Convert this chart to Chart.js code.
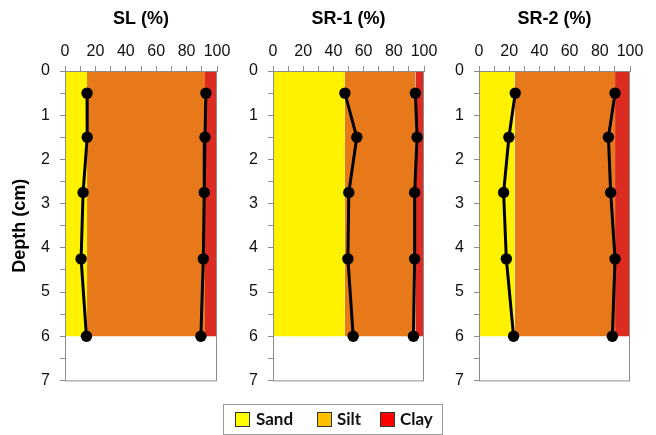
<!DOCTYPE html>
<html>
<head>
<meta charset="utf-8">
<script src="https://cdn.jsdelivr.net/npm/chart.js@4/dist/chart.umd.min.js"></script>
<style>
  html, body { margin: 0; padding: 0; background: #fff; }
  #page { position: relative; width: 656px; height: 435px; overflow: hidden; }
  canvas { position: absolute; top: 0; }
  #legend { position: absolute; left: 223px; top: 404px; width: 218px; height: 29px;
            border: 1px solid #9a9a9a; font: bold 17px Lato, 'Liberation Sans', sans-serif; color: #111; }
  .sw { position: absolute; top: 7px; width: 13px; height: 13px; border: 1px solid #333; }
  .lb { position: absolute; top: 4px; line-height: 20px; }
</style>
</head>
<body>
<div id="page">
  <canvas id="p0"></canvas>
  <canvas id="p1"></canvas>
  <canvas id="p2"></canvas>
  <div id="legend">
    <div class="sw" style="left:11px;background:#ffff00"></div><div class="lb" style="left:32px">Sand</div>
    <div class="sw" style="left:93px;background:#ffc000"></div><div class="lb" style="left:113px">Silt</div>
    <div class="sw" style="left:156px;background:#ff0000"></div><div class="lb" style="left:176px">Clay</div>
  </div>
</div>
<script>
(() => {
  'use strict'

  // Sample depths (cm)
  const depths = [0.5, 1.5, 2.75, 4.25, 6]
  const panelTitles = ['SL (%)', 'SR-1 (%)', 'SR-2 (%)']

  // Cumulative curves: sand, sand + silt (%)
  const slSand = [14.5, 14.6, 11.9, 10.6, 14.1]
  const slSandSilt = [92.7, 92.1, 91.6, 91.0, 89.4]
  const sr1Sand = [47.6, 55.5, 50.2, 49.6, 53.1]
  const sr1SandSilt = [94.3, 95.4, 93.8, 93.8, 93.0]
  const sr2Sand = [24.0, 19.8, 16.3, 18.1, 22.9]
  const sr2SandSilt = [90.1, 85.7, 87.2, 90.1, 88.3]

  // Shaded bands: sand limit and sand+silt limit per panel, down to bandDepth
  const sandBand = [14.5, 47.6, 23.6]
  const siltBand = [92.1, 94.3, 90.1]
  const bandDepth = 6

  const xTicks = { min: 0, max: 100, step: 10 }
  const yTicks = { min: 0, max: 7, step: 0.5 }

  const curves = [[slSand, slSandSilt], [sr1Sand, sr1SandSilt], [sr2Sand, sr2SandSilt]]

  const FONT = "'Liberation Sans', Arial, sans-serif"
  const GREY = '#8c8c8c'
  const fills = ['#fff200', '#e8791a', '#dc2b20']

  // plot-area left/right for each panel, plus y-axis width
  const frames = [
    { left: 65, right: 217, yw: 65 },
    { left: 273, right: 424, yw: 50 },
    { left: 479, right: 630, yw: 50 }
  ]

  const boxPlugin = {
    id: 'box',
    afterDatasetsDraw (chart) {
      const { ctx, chartArea: a } = chart
      ctx.save()
      ctx.strokeStyle = GREY
      ctx.lineWidth = 1
      ctx.strokeRect(a.left + 0.5, a.top + 0.5, a.right - a.left - 1, a.bottom - a.top)
      ctx.restore()
    }
  }

  const band = (x0, x1, color) => ({
    data: [{ x: x0, y: bandDepth }, { x: x1, y: bandDepth }],
    borderWidth: 0,
    pointRadius: 0,
    backgroundColor: color,
    fill: 'origin',
    order: 2
  })

  const curve = vals => ({
    data: vals.map((v, i) => ({ x: v, y: depths[i] })),
    borderColor: '#000',
    borderWidth: 3,
    pointRadius: 5.7,
    pointBackgroundColor: '#000',
    pointBorderWidth: 0,
    fill: false,
    tension: 0,
    order: 1
  })

  frames.forEach((f, i) => {
    const cv = document.getElementById('p' + i)
    const left = f.left - f.yw
    cv.width = f.right - left + 20
    cv.height = 400
    cv.style.left = left + 'px'

    // eslint-disable-next-line no-new
    new Chart(cv, {
      type: 'line',
      data: {
        datasets: [
          band(0, sandBand[i], fills[0]),
          band(sandBand[i], siltBand[i], fills[1]),
          band(siltBand[i], 100, fills[2]),
          curve(curves[i][0]),
          curve(curves[i][1])
        ]
      },
      options: {
        responsive: false,
        animation: false,
        layout: { padding: { left: 0, right: 20, top: 0, bottom: 14 } },
        plugins: { legend: { display: false }, tooltip: { enabled: false } },
        scales: {
          x: {
            type: 'linear',
            position: 'top',
            min: xTicks.min,
            max: xTicks.max,
            afterFit: s => { s.height = 71 },
            grid: { drawOnChartArea: false, color: GREY, tickLength: 5 },
            border: { color: GREY },
            title: {
              display: true,
              text: panelTitles[i],
              color: '#000',
              font: { family: FONT, size: 18, weight: 'bold' },
              padding: { top: 8, bottom: 0 }
            },
            ticks: {
              stepSize: xTicks.step,
              autoSkip: false,
              maxRotation: 0,
              padding: 5,
              color: '#111',
              font: { family: FONT, size: 16 },
              callback: v => (v % 20 === 0 ? v : '')
            }
          },
          y: {
            type: 'linear',
            reverse: true,
            min: yTicks.min,
            max: yTicks.max,
            afterFit: s => { s.width = f.yw },
            grid: { drawOnChartArea: false, color: GREY, tickLength: 5 },
            border: { color: GREY },
            title: {
              display: i === 0,
              text: 'Depth (cm)',
              color: '#000',
              font: { family: FONT, size: 18, weight: 'bold' },
              padding: { top: 9, bottom: 0 }
            },
            ticks: {
              stepSize: yTicks.step,
              autoSkip: false,
              padding: 10,
              color: '#111',
              font: { family: FONT, size: 16 },
              callback: v => (Number.isInteger(v) ? v : '')
            }
          }
        }
      },
      plugins: [boxPlugin]
    })
  })
})()
</script>
</body>
</html>
